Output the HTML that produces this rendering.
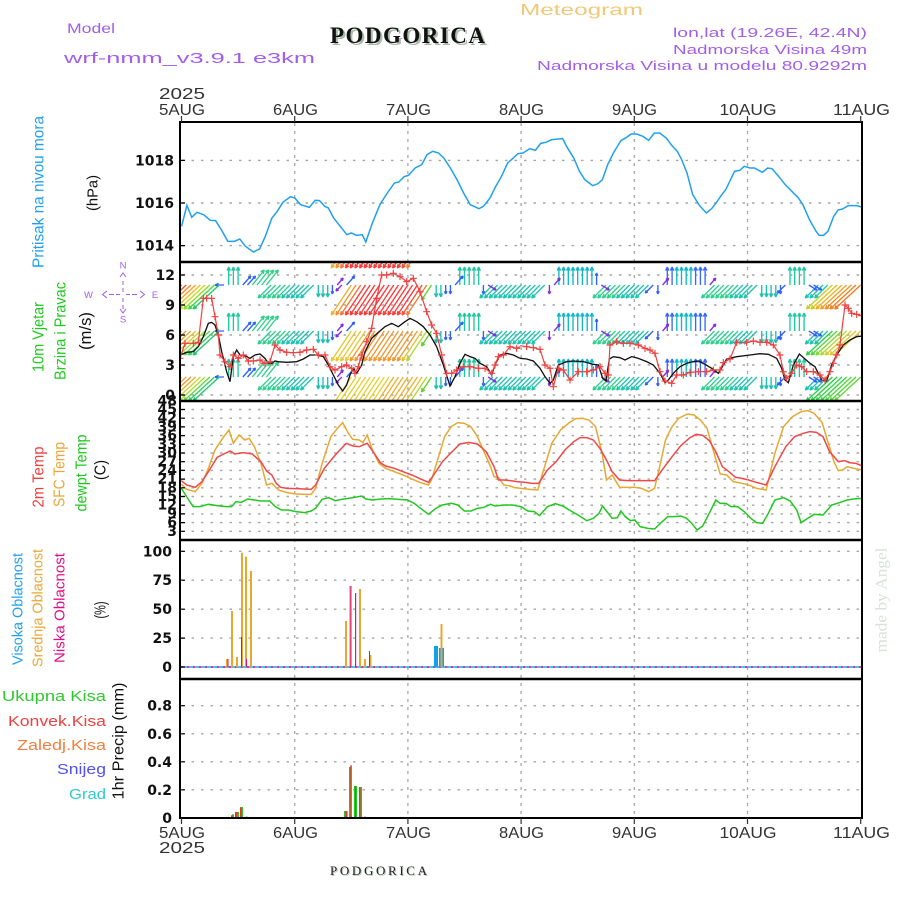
<!DOCTYPE html>
<html><head><meta charset="utf-8"><style>
html,body{margin:0;padding:0;background:#fff}
svg{display:block}
.g{stroke:#a6a6a6;stroke-width:1.4;stroke-dasharray:2.5,7}
.v{stroke:#a6a6a6;stroke-width:1.3;stroke-dasharray:3,5}
.tk{font-family:"DejaVu Sans","Liberation Sans",sans-serif;font-weight:bold;font-size:14px;fill:#111;text-anchor:end}
.ax{font-family:"Liberation Sans",sans-serif;font-size:16px;fill:#333;text-anchor:middle}
.lb{font-family:"Liberation Sans",sans-serif;font-size:16px;text-anchor:middle}
.w path{fill:none;stroke-width:1.35}
</style></head><body>
<svg width="900" height="900" viewBox="0 0 900 900" xmlns="http://www.w3.org/2000/svg">
<defs>
<clipPath id="cw"><rect x="181" y="263" width="680" height="137"/></clipPath>
<clipPath id="cp"><rect x="181" y="123" width="680" height="138"/></clipPath>
<marker id="pl" markerUnits="userSpaceOnUse" markerWidth="24" markerHeight="24" refX="12" refY="12" viewBox="0 0 24 24" overflow="visible"><path d="M12,1.5V22.5M1.5,12H22.5" stroke="#f04040" stroke-width="3.5" fill="none"/></marker>

<g id="wc" class="w">
<path stroke="#30d090" d="M271.1,0l-13,13l3.8,-1.4m-3.8,1.4l1.4,-3.8M275.8,0l-13,13l3.8,-1.4m-3.8,1.4l1.4,-3.8M280.6,0l-13,13l3.8,-1.4m-3.8,1.4l1.4,-3.8M285.3,0l-13,13l3.8,-1.4m-3.8,1.4l1.4,-3.8M290,0l-13,13l3.8,-1.4m-3.8,1.4l1.4,-3.8M606,0l-13,13l3.8,-1.4m-3.8,1.4l1.4,-3.8M610.7,0l-13,13l3.8,-1.4m-3.8,1.4l1.4,-3.8M615.5,0l-13,13l3.8,-1.4m-3.8,1.4l1.4,-3.8M620.2,0l-13,13l3.8,-1.4m-3.8,1.4l1.4,-3.8M624.9,0l-13,13l3.8,-1.4m-3.8,1.4l1.4,-3.8M714.5,0l-13,13l3.8,-1.4m-3.8,1.4l1.4,-3.8M719.2,0l-13,13l3.8,-1.4m-3.8,1.4l1.4,-3.8M723.9,0l-13,13l3.8,-1.4m-3.8,1.4l1.4,-3.8M728.7,0l-13,13l3.8,-1.4m-3.8,1.4l1.4,-3.8M733.4,0l-13,13l3.8,-1.4m-3.8,1.4l1.4,-3.8M738.1,0l-13,13l3.8,-1.4m-3.8,1.4l1.4,-3.8"/>
<path stroke="#20c4b0" d="M294.7,0l-13,13l3.8,-1.4m-3.8,1.4l1.4,-3.8M299.4,0l-13,13l3.8,-1.4m-3.8,1.4l1.4,-3.8M304.1,0l-13,13l3.8,-1.4m-3.8,1.4l1.4,-3.8M308.9,0l-13,13l3.8,-1.4m-3.8,1.4l1.4,-3.8M313.6,0l-13,13l3.8,-1.4m-3.8,1.4l1.4,-3.8M492.8,0l-13,13l3.8,-1.4m-3.8,1.4l1.4,-3.8M497.5,0l-13,13l3.8,-1.4m-3.8,1.4l1.4,-3.8M502.3,0l-13,13l3.8,-1.4m-3.8,1.4l1.4,-3.8M507,0l-13,13l3.8,-1.4m-3.8,1.4l1.4,-3.8M511.7,0l-13,13l3.8,-1.4m-3.8,1.4l1.4,-3.8M516.4,0l-13,13l3.8,-1.4m-3.8,1.4l1.4,-3.8M521.1,0l-13,13l3.8,-1.4m-3.8,1.4l1.4,-3.8M525.8,0l-13,13l3.8,-1.4m-3.8,1.4l1.4,-3.8M530.6,0l-13,13l3.8,-1.4m-3.8,1.4l1.4,-3.8M535.3,0l-13,13l3.8,-1.4m-3.8,1.4l1.4,-3.8M540,0l-13,13l3.8,-1.4m-3.8,1.4l1.4,-3.8M544.7,0l-13,13l3.8,-1.4m-3.8,1.4l1.4,-3.8M629.6,0l-13,13l3.8,-1.4m-3.8,1.4l1.4,-3.8M634.3,0l-13,13l3.8,-1.4m-3.8,1.4l1.4,-3.8M639,0l-13,13l3.8,-1.4m-3.8,1.4l1.4,-3.8M643.8,0l-13,13l3.8,-1.4m-3.8,1.4l1.4,-3.8M648.5,0l-13,13l3.8,-1.4m-3.8,1.4l1.4,-3.8M742.8,0l-13,13l3.8,-1.4m-3.8,1.4l1.4,-3.8M747.5,0l-13,13l3.8,-1.4m-3.8,1.4l1.4,-3.8M752.2,0l-13,13l3.8,-1.4m-3.8,1.4l1.4,-3.8M757,0l-13,13l3.8,-1.4m-3.8,1.4l1.4,-3.8M818.3,0l-13,13l3.8,-1.4m-3.8,1.4l1.4,-3.8M823,0l-13,13l3.8,-1.4m-3.8,1.4l1.4,-3.8M827.7,0l-13,13l3.8,-1.4m-3.8,1.4l1.4,-3.8"/>
<path stroke="#20c0b0" d="M318.3,0l0,12l-1.7,-3.6m1.7,3.6l1.7,-3.6M323,0l0,12l-1.7,-3.6m1.7,3.6l1.7,-3.6M327.7,0l0,12l-1.7,-3.6m1.7,3.6l1.7,-3.6M436.2,0l0,12l-1.7,-3.6m1.7,3.6l1.7,-3.6M440.9,0l0,12l-1.7,-3.6m1.7,3.6l1.7,-3.6M761.7,0l0,12l-1.7,-3.6m1.7,3.6l1.7,-3.6M766.4,0l0,12l-1.7,-3.6m1.7,3.6l1.7,-3.6M771.1,0l0,12l-1.7,-3.6m1.7,3.6l1.7,-3.6M775.8,0l0,12l-1.7,-3.6m1.7,3.6l1.7,-3.6"/>
<path stroke="#20c8a0" d="M228.7,0l0,-18l-1.7,3.6m1.7,-3.6l1.7,3.6M233.4,0l0,-18l-1.7,3.6m1.7,-3.6l1.7,3.6M238.1,0l0,-18l-1.7,3.6m1.7,-3.6l1.7,3.6M459.8,0l0,-18l-1.7,3.6m1.7,-3.6l1.7,3.6M464.5,0l0,-18l-1.7,3.6m1.7,-3.6l1.7,3.6M469.2,0l0,-18l-1.7,3.6m1.7,-3.6l1.7,3.6M474,0l0,-18l-1.7,3.6m1.7,-3.6l1.7,3.6M478.7,0l0,-18l-1.7,3.6m1.7,-3.6l1.7,3.6M790,0l0,-18l-1.7,3.6m1.7,-3.6l1.7,3.6M794.7,0l0,-18l-1.7,3.6m1.7,-3.6l1.7,3.6M799.4,0l0,-18l-1.7,3.6m1.7,-3.6l1.7,3.6M804.1,0l0,-18l-1.7,3.6m1.7,-3.6l1.7,3.6"/>
<path stroke="#10b8c8" d="M558.9,0l0,-18l-1.7,3.6m1.7,-3.6l1.7,3.6M563.6,0l0,-18l-1.7,3.6m1.7,-3.6l1.7,3.6M568.3,0l0,-18l-1.7,3.6m1.7,-3.6l1.7,3.6M573,0l0,-18l-1.7,3.6m1.7,-3.6l1.7,3.6M577.7,0l0,-18l-1.7,3.6m1.7,-3.6l1.7,3.6M582.4,0l0,-18l-1.7,3.6m1.7,-3.6l1.7,3.6M587.2,0l0,-18l-1.7,3.6m1.7,-3.6l1.7,3.6M591.9,0l0,-18l-1.7,3.6m1.7,-3.6l1.7,3.6M676.8,0l0,-18l-1.7,3.6m1.7,-3.6l1.7,3.6M681.5,0l0,-18l-1.7,3.6m1.7,-3.6l1.7,3.6M686.2,0l0,-18l-1.7,3.6m1.7,-3.6l1.7,3.6M690.9,0l0,-18l-1.7,3.6m1.7,-3.6l1.7,3.6"/>
<path stroke="#3868ff" d="M667.3,0l0,-18l-1.7,3.6m1.7,-3.6l1.7,3.6M672.1,0l0,-18l-1.7,3.6m1.7,-3.6l1.7,3.6M695.6,0l0,-18l-1.7,3.6m1.7,-3.6l1.7,3.6M700.4,0l0,-18l-1.7,3.6m1.7,-3.6l1.7,3.6M705.1,0l0,-18l-1.7,3.6m1.7,-3.6l1.7,3.6"/>
<path stroke="#30d088" d="M252.3,0l12,-15l-3.7,1.6m3.7,-1.6l-1.1,3.8M257,0l12,-15l-3.7,1.6m3.7,-1.6l-1.1,3.8M261.7,0l12,-15l-3.7,1.6m3.7,-1.6l-1.1,3.8M266.4,0l12,-15l-3.7,1.6m3.7,-1.6l-1.1,3.8"/>
<path stroke="#3060ff" d="M224,0l-9,0l3.6,-1.7m-3.6,1.7l3.6,1.7M242.8,0l8,-9l-2.8,1.2m2.8,-1.2l-0.8,2.9M247.5,0l8,-9l-2.8,1.2m2.8,-1.2l-0.8,2.9M346.6,0l8,-9l-2.8,1.2m2.8,-1.2l-0.8,2.9M455.1,0l8,-9l-2.8,1.2m2.8,-1.2l-0.8,2.9M332.4,0l0,9l-1.3,-2.7m1.3,2.7l1.3,-2.7M445.7,0l0,9l-1.3,-2.7m1.3,2.7l1.3,-2.7M450.4,0l0,9l-1.3,-2.7m1.3,2.7l1.3,-2.7M483.4,0l0,9l-1.3,-2.7m1.3,2.7l1.3,-2.7M657.9,0l0,9l-1.3,-2.7m1.3,2.7l1.3,-2.7M780.5,0l0,9l-1.3,-2.7m1.3,2.7l1.3,-2.7M596.6,0l0,-12l-1.3,2.7m1.3,-2.7l1.3,2.7M653.2,0l-8,8l2.8,-1m-2.8,1l1,-2.8M785.3,0l-8,8l2.8,-1m-2.8,1l1,-2.8M808.8,0l8,5l-1.6,-2.5m1.6,2.5l-3,-0.4M813.6,0l8,5l-1.6,-2.5m1.6,2.5l-3,-0.4"/>
<path stroke="#8a2be2" d="M337.2,0l6,-7l-2.8,1.2m2.8,-1.2l-0.8,2.9M554.1,0l6,-7l-2.8,1.2m2.8,-1.2l-0.8,2.9M662.6,0l6,-7l-2.8,1.2m2.8,-1.2l-0.8,2.9M709.8,0l6,-7l-2.8,1.2m2.8,-1.2l-0.8,2.9M341.9,0l-6,6l2.8,-1m-2.8,1l1,-2.8M488.1,0l8,5l-1.6,-2.5m1.6,2.5l-3,-0.4M601.3,0l8,5l-1.6,-2.5m1.6,2.5l-3,-0.4M549.4,0l0,9l-1.3,-2.7m1.3,2.7l1.3,-2.7"/>
</g>

<g id="wT" class="w">
<path stroke="#ff2020" d="M181.5,0l-26,24l3.8,-1.2m-3.8,1.2l1.5,-3.7"/>
<path stroke="#ff5020" d="M186.2,0l-26,24l3.8,-1.2m-3.8,1.2l1.5,-3.7"/>
<path stroke="#ff8020" d="M190.9,0l-26,24l3.8,-1.2m-3.8,1.2l1.5,-3.7"/>
<path stroke="#ffa020" d="M195.7,0l-26,24l3.8,-1.2m-3.8,1.2l1.5,-3.7"/>
<path stroke="#f0c020" d="M200.4,0l-26,24l3.8,-1.2m-3.8,1.2l1.5,-3.7"/>
<path stroke="#c8d820" d="M205.1,0l-26,24l3.8,-1.2m-3.8,1.2l1.5,-3.7"/>
<path stroke="#88e020" d="M209.8,0l-26,24l3.8,-1.2m-3.8,1.2l1.5,-3.7"/>
<path stroke="#40d840" d="M214.5,0l-26,24l3.8,-1.2m-3.8,1.2l1.5,-3.7"/>
<path stroke="#20d060" d="M219.2,0l-26,24l3.8,-1.2m-3.8,1.2l1.5,-3.7"/>
<path stroke="#f0b030" d="M351.3,0l-20,30l3.4,-2.1m-3.4,2.1l0.6,-4"/>
<path stroke="#f09030" d="M356,0l-20,30l3.4,-2.1m-3.4,2.1l0.6,-4"/>
<path stroke="#ff7030" d="M360.7,0l-20,30l3.4,-2.1m-3.4,2.1l0.6,-4"/>
<path stroke="#ff3838" d="M365.5,0l-20,30l3.4,-2.1m-3.4,2.1l0.6,-4M370.2,0l-20,30l3.4,-2.1m-3.4,2.1l0.6,-4M374.9,0l-20,30l3.4,-2.1m-3.4,2.1l0.6,-4M379.6,0l-20,30l3.4,-2.1m-3.4,2.1l0.6,-4M384.3,0l-20,30l3.4,-2.1m-3.4,2.1l0.6,-4M389,0l-20,30l3.4,-2.1m-3.4,2.1l0.6,-4M393.8,0l-20,30l3.4,-2.1m-3.4,2.1l0.6,-4M398.5,0l-20,30l3.4,-2.1m-3.4,2.1l0.6,-4M403.2,0l-20,30l3.4,-2.1m-3.4,2.1l0.6,-4M407.9,0l-20,30l3.4,-2.1m-3.4,2.1l0.6,-4M412.6,0l-20,30l3.4,-2.1m-3.4,2.1l0.6,-4M417.4,0l-20,30l3.4,-2.1m-3.4,2.1l0.6,-4"/>
<path stroke="#ff5030" d="M422.1,0l-20,30l3.4,-2.1m-3.4,2.1l0.6,-4"/>
<path stroke="#f08030" d="M426.8,0l-20,30l3.4,-2.1m-3.4,2.1l0.6,-4"/>
<path stroke="#60d030" d="M431.5,0l-10,15l3.4,-2.1m-3.4,2.1l0.6,-4"/>
<path stroke="#c8d020" d="M832.4,0l-26,24l3.8,-1.2m-3.8,1.2l1.5,-3.7"/>
<path stroke="#e0c020" d="M837.1,0l-26,24l3.8,-1.2m-3.8,1.2l1.5,-3.7"/>
<path stroke="#f0b020" d="M841.9,0l-26,24l3.8,-1.2m-3.8,1.2l1.5,-3.7"/>
<path stroke="#f0a020" d="M846.6,0l-26,24l3.8,-1.2m-3.8,1.2l1.5,-3.7"/>
<path stroke="#f09020" d="M851.3,0l-26,24l3.8,-1.2m-3.8,1.2l1.5,-3.7"/>
<path stroke="#f08020" d="M856,0l-26,24l3.8,-1.2m-3.8,1.2l1.5,-3.7"/>
<path stroke="#f07820" d="M860.7,0l-26,24l3.8,-1.2m-3.8,1.2l1.5,-3.7"/>
</g>

<g id="wM" class="w">
<path stroke="#f07030" d="M181.5,0l-26,24l3.8,-1.2m-3.8,1.2l1.5,-3.7"/>
<path stroke="#f09030" d="M186.2,0l-26,24l3.8,-1.2m-3.8,1.2l1.5,-3.7"/>
<path stroke="#f0a830" d="M190.9,0l-26,24l3.8,-1.2m-3.8,1.2l1.5,-3.7"/>
<path stroke="#e8c030" d="M195.7,0l-26,24l3.8,-1.2m-3.8,1.2l1.5,-3.7"/>
<path stroke="#d0d030" d="M200.4,0l-26,24l3.8,-1.2m-3.8,1.2l1.5,-3.7"/>
<path stroke="#a0e030" d="M205.1,0l-26,24l3.8,-1.2m-3.8,1.2l1.5,-3.7"/>
<path stroke="#60d840" d="M209.8,0l-26,24l3.8,-1.2m-3.8,1.2l1.5,-3.7"/>
<path stroke="#30d060" d="M214.5,0l-26,24l3.8,-1.2m-3.8,1.2l1.5,-3.7"/>
<path stroke="#20c870" d="M219.2,0l-26,24l3.8,-1.2m-3.8,1.2l1.5,-3.7"/>
<path stroke="#e8c830" d="M351.3,0l-20,30l3.4,-2.1m-3.4,2.1l0.6,-4M356,0l-20,30l3.4,-2.1m-3.4,2.1l0.6,-4M360.7,0l-20,30l3.4,-2.1m-3.4,2.1l0.6,-4M365.5,0l-20,30l3.4,-2.1m-3.4,2.1l0.6,-4"/>
<path stroke="#f09830" d="M370.2,0l-20,30l3.4,-2.1m-3.4,2.1l0.6,-4M374.9,0l-20,30l3.4,-2.1m-3.4,2.1l0.6,-4M379.6,0l-20,30l3.4,-2.1m-3.4,2.1l0.6,-4M384.3,0l-20,30l3.4,-2.1m-3.4,2.1l0.6,-4M389,0l-20,30l3.4,-2.1m-3.4,2.1l0.6,-4M393.8,0l-20,30l3.4,-2.1m-3.4,2.1l0.6,-4M398.5,0l-20,30l3.4,-2.1m-3.4,2.1l0.6,-4M403.2,0l-20,30l3.4,-2.1m-3.4,2.1l0.6,-4M407.9,0l-20,30l3.4,-2.1m-3.4,2.1l0.6,-4M412.6,0l-20,30l3.4,-2.1m-3.4,2.1l0.6,-4M417.4,0l-20,30l3.4,-2.1m-3.4,2.1l0.6,-4"/>
<path stroke="#e8c030" d="M422.1,0l-20,30l3.4,-2.1m-3.4,2.1l0.6,-4"/>
<path stroke="#b0d830" d="M426.8,0l-20,30l3.4,-2.1m-3.4,2.1l0.6,-4"/>
<path stroke="#60d030" d="M431.5,0l-10,15l3.4,-2.1m-3.4,2.1l0.6,-4"/>
<path stroke="#30d040" d="M832.4,0l-26,24l3.8,-1.2m-3.8,1.2l1.5,-3.7"/>
<path stroke="#50d838" d="M837.1,0l-26,24l3.8,-1.2m-3.8,1.2l1.5,-3.7"/>
<path stroke="#80d830" d="M841.9,0l-26,24l3.8,-1.2m-3.8,1.2l1.5,-3.7"/>
<path stroke="#b0d830" d="M846.6,0l-26,24l3.8,-1.2m-3.8,1.2l1.5,-3.7"/>
<path stroke="#d0d030" d="M851.3,0l-26,24l3.8,-1.2m-3.8,1.2l1.5,-3.7"/>
<path stroke="#e0c830" d="M856,0l-26,24l3.8,-1.2m-3.8,1.2l1.5,-3.7"/>
<path stroke="#e8c030" d="M860.7,0l-26,24l3.8,-1.2m-3.8,1.2l1.5,-3.7"/>
</g>

<g id="wB" class="w">
<path stroke="#e8c030" d="M181.5,0l-26,24l3.8,-1.2m-3.8,1.2l1.5,-3.7"/>
<path stroke="#f0a830" d="M186.2,0l-26,24l3.8,-1.2m-3.8,1.2l1.5,-3.7"/>
<path stroke="#f09030" d="M190.9,0l-26,24l3.8,-1.2m-3.8,1.2l1.5,-3.7"/>
<path stroke="#e8b030" d="M195.7,0l-26,24l3.8,-1.2m-3.8,1.2l1.5,-3.7"/>
<path stroke="#d0d030" d="M200.4,0l-26,24l3.8,-1.2m-3.8,1.2l1.5,-3.7"/>
<path stroke="#a0e030" d="M205.1,0l-26,24l3.8,-1.2m-3.8,1.2l1.5,-3.7"/>
<path stroke="#60d840" d="M209.8,0l-26,24l3.8,-1.2m-3.8,1.2l1.5,-3.7"/>
<path stroke="#30d060" d="M214.5,0l-26,24l3.8,-1.2m-3.8,1.2l1.5,-3.7"/>
<path stroke="#20c870" d="M219.2,0l-26,24l3.8,-1.2m-3.8,1.2l1.5,-3.7"/>
<path stroke="#e8d030" d="M351.3,0l-20,30l3.4,-2.1m-3.4,2.1l0.6,-4M356,0l-20,30l3.4,-2.1m-3.4,2.1l0.6,-4M360.7,0l-20,30l3.4,-2.1m-3.4,2.1l0.6,-4M365.5,0l-20,30l3.4,-2.1m-3.4,2.1l0.6,-4M370.2,0l-20,30l3.4,-2.1m-3.4,2.1l0.6,-4M374.9,0l-20,30l3.4,-2.1m-3.4,2.1l0.6,-4M379.6,0l-20,30l3.4,-2.1m-3.4,2.1l0.6,-4M384.3,0l-20,30l3.4,-2.1m-3.4,2.1l0.6,-4M389,0l-20,30l3.4,-2.1m-3.4,2.1l0.6,-4"/>
<path stroke="#f0b030" d="M393.8,0l-20,30l3.4,-2.1m-3.4,2.1l0.6,-4M398.5,0l-20,30l3.4,-2.1m-3.4,2.1l0.6,-4M403.2,0l-20,30l3.4,-2.1m-3.4,2.1l0.6,-4M407.9,0l-20,30l3.4,-2.1m-3.4,2.1l0.6,-4M412.6,0l-20,30l3.4,-2.1m-3.4,2.1l0.6,-4M417.4,0l-20,30l3.4,-2.1m-3.4,2.1l0.6,-4"/>
<path stroke="#e8c030" d="M422.1,0l-20,30l3.4,-2.1m-3.4,2.1l0.6,-4"/>
<path stroke="#b0d830" d="M426.8,0l-20,30l3.4,-2.1m-3.4,2.1l0.6,-4"/>
<path stroke="#60d030" d="M431.5,0l-10,15l3.4,-2.1m-3.4,2.1l0.6,-4"/>
<path stroke="#20d040" d="M832.4,0l-26,24l3.8,-1.2m-3.8,1.2l1.5,-3.7M837.1,0l-26,24l3.8,-1.2m-3.8,1.2l1.5,-3.7"/>
<path stroke="#30d840" d="M841.9,0l-26,24l3.8,-1.2m-3.8,1.2l1.5,-3.7M846.6,0l-26,24l3.8,-1.2m-3.8,1.2l1.5,-3.7"/>
<path stroke="#50d838" d="M851.3,0l-26,24l3.8,-1.2m-3.8,1.2l1.5,-3.7M856,0l-26,24l3.8,-1.2m-3.8,1.2l1.5,-3.7"/>
<path stroke="#60d830" d="M860.7,0l-26,24l3.8,-1.2m-3.8,1.2l1.5,-3.7"/>
</g>
</defs>

<rect x="0" y="0" width="900" height="900" fill="#fff"/>

<!-- header texts -->
<text x="520" y="15" font-family="Liberation Sans,sans-serif" font-size="16" fill="#f0c878" textLength="123" lengthAdjust="spacingAndGlyphs">Meteogram</text>
<text x="67" y="33" font-family="Liberation Sans,sans-serif" font-size="14" fill="#a35ee8" textLength="48" lengthAdjust="spacingAndGlyphs">Model</text>
<text x="64" y="63" font-family="Liberation Sans,sans-serif" font-size="15" fill="#a35ee8" textLength="251" lengthAdjust="spacingAndGlyphs">wrf-nmm_v3.9.1 e3km</text>
<text x="332" y="45" font-family="Liberation Serif,serif" font-weight="bold" font-size="23" fill="#a8bca8" textLength="155" lengthAdjust="spacing">PODGORICA</text>
<text x="330" y="43" font-family="Liberation Serif,serif" font-weight="bold" font-size="23" fill="#111" textLength="155" lengthAdjust="spacing">PODGORICA</text>
<text x="673" y="37" font-family="Liberation Sans,sans-serif" font-size="13" fill="#a35ee8" textLength="194" lengthAdjust="spacingAndGlyphs">lon,lat (19.26E, 42.4N)</text>
<text x="673" y="54" font-family="Liberation Sans,sans-serif" font-size="13" fill="#a35ee8" textLength="194" lengthAdjust="spacingAndGlyphs">Nadmorska Visina 49m</text>
<text x="537" y="70" font-family="Liberation Sans,sans-serif" font-size="13" fill="#a35ee8" textLength="330" lengthAdjust="spacingAndGlyphs">Nadmorska Visina u modelu 80.9292m</text>

<!-- x axis labels -->
<text class="ax" x="182" y="99" textLength="46" lengthAdjust="spacingAndGlyphs">2025</text>
<text class="ax" x="182" y="115" textLength="46" lengthAdjust="spacingAndGlyphs">5AUG</text>
<text class="ax" x="295.5" y="115" textLength="45" lengthAdjust="spacingAndGlyphs">6AUG</text>
<text class="ax" x="408.5" y="115" textLength="45" lengthAdjust="spacingAndGlyphs">7AUG</text>
<text class="ax" x="521.5" y="115" textLength="45" lengthAdjust="spacingAndGlyphs">8AUG</text>
<text class="ax" x="634.5" y="115" textLength="45" lengthAdjust="spacingAndGlyphs">9AUG</text>
<text class="ax" x="748" y="115" textLength="57" lengthAdjust="spacingAndGlyphs">10AUG</text>
<text class="ax" x="861.5" y="115" textLength="57" lengthAdjust="spacingAndGlyphs">11AUG</text>
<text class="ax" x="182" y="838" textLength="46" lengthAdjust="spacingAndGlyphs">5AUG</text>
<text class="ax" x="182" y="853" textLength="46" lengthAdjust="spacingAndGlyphs">2025</text>
<text class="ax" x="295.5" y="838" textLength="45" lengthAdjust="spacingAndGlyphs">6AUG</text>
<text class="ax" x="408.5" y="838" textLength="45" lengthAdjust="spacingAndGlyphs">7AUG</text>
<text class="ax" x="521.5" y="838" textLength="45" lengthAdjust="spacingAndGlyphs">8AUG</text>
<text class="ax" x="634.5" y="838" textLength="45" lengthAdjust="spacingAndGlyphs">9AUG</text>
<text class="ax" x="748" y="838" textLength="57" lengthAdjust="spacingAndGlyphs">10AUG</text>
<text class="ax" x="861.5" y="838" textLength="57" lengthAdjust="spacingAndGlyphs">11AUG</text>

<!-- grids -->
<g>
<line class="g" x1="182" x2="861" y1="160.4" y2="160.4"/>
<line class="g" x1="182" x2="861" y1="203" y2="203"/>
<line class="g" x1="182" x2="861" y1="245.6" y2="245.6"/>
<line class="g" x1="182" x2="861" y1="275" y2="275"/>
<line class="g" x1="182" x2="861" y1="305" y2="305"/>
<line class="g" x1="182" x2="861" y1="335" y2="335"/>
<line class="g" x1="182" x2="861" y1="365" y2="365"/>
<line class="g" x1="182" x2="861" y1="395" y2="395"/>
<line class="g" x1="182" x2="861" y1="531.3" y2="531.3"/>
<line class="g" x1="182" x2="861" y1="522.6" y2="522.6"/>
<line class="g" x1="182" x2="861" y1="513.9" y2="513.9"/>
<line class="g" x1="182" x2="861" y1="505.2" y2="505.2"/>
<line class="g" x1="182" x2="861" y1="496.5" y2="496.5"/>
<line class="g" x1="182" x2="861" y1="487.8" y2="487.8"/>
<line class="g" x1="182" x2="861" y1="479.1" y2="479.1"/>
<line class="g" x1="182" x2="861" y1="470.4" y2="470.4"/>
<line class="g" x1="182" x2="861" y1="461.7" y2="461.7"/>
<line class="g" x1="182" x2="861" y1="453" y2="453"/>
<line class="g" x1="182" x2="861" y1="444.3" y2="444.3"/>
<line class="g" x1="182" x2="861" y1="435.6" y2="435.6"/>
<line class="g" x1="182" x2="861" y1="426.9" y2="426.9"/>
<line class="g" x1="182" x2="861" y1="418.2" y2="418.2"/>
<line class="g" x1="182" x2="861" y1="409.5" y2="409.5"/>
<line class="g" x1="182" x2="861" y1="551.3" y2="551.3"/>
<line class="g" x1="182" x2="861" y1="580.2" y2="580.2"/>
<line class="g" x1="182" x2="861" y1="609.2" y2="609.2"/>
<line class="g" x1="182" x2="861" y1="638.1" y2="638.1"/>
<line class="g" x1="182" x2="861" y1="705.7" y2="705.7"/>
<line class="g" x1="182" x2="861" y1="733.8" y2="733.8"/>
<line class="g" x1="182" x2="861" y1="761.8" y2="761.8"/>
<line class="g" x1="182" x2="861" y1="789.8" y2="789.8"/>
<line class="v" x1="294.7" x2="294.7" y1="123" y2="817"/>
<line class="v" x1="407.9" x2="407.9" y1="123" y2="817"/>
<line class="v" x1="521.1" x2="521.1" y1="123" y2="817"/>
<line class="v" x1="634.3" x2="634.3" y1="123" y2="817"/>
<line class="v" x1="747.5" x2="747.5" y1="123" y2="817"/>
</g>

<!-- pressure -->
<g clip-path="url(#cp)">
<polyline transform="translate(175,118) scale(0.4406,0.3333)" vector-effect="non-scaling-stroke" fill="none" stroke="#20a0f0" stroke-width="1.5" points="15,325 27,262 38,298 50,283 65,290 80,307 92,308 105,335 120,370 135,370 147,363 160,385 178,402 192,393 205,355 220,300 232,280 245,253 262,236 272,240 285,260 305,268 318,247 328,248 340,265 348,270 360,300 375,325 390,350 400,345 412,352 425,350 433,372 448,315 465,260 482,225 498,195 508,192 520,176 530,172 545,150 560,140 572,110 585,100 598,105 610,120 625,150 640,185 655,225 670,260 690,272 700,265 715,240 728,205 740,178 755,135 768,120 778,107 790,105 805,92 818,97 830,76 842,73 855,65 870,63 880,62 890,88 905,120 918,160 930,185 948,203 960,197 970,185 982,140 995,105 1012,68 1025,58 1035,48 1048,48 1062,55 1075,67 1088,45 1100,45 1115,60 1128,83 1140,100 1150,125 1162,165 1175,230 1190,262 1206,285 1218,272 1228,255 1240,232 1250,215 1270,160 1282,157 1292,145 1305,150 1315,150 1333,163 1345,150 1355,152 1370,175 1385,200 1400,220 1415,240 1425,260 1440,305 1455,340 1462,352 1472,352 1482,340 1495,295 1505,276 1515,273 1528,263 1540,263 1548,263 1560,268"/>
</g>

<!-- wind -->
<g clip-path="url(#cw)">
<use href="#wT" transform="translate(0,238)"/>
<use href="#wc" transform="translate(0,285)"/>
<use href="#wT" transform="translate(0,285)"/>
<use href="#wc" transform="translate(0,331)"/>
<use href="#wM" transform="translate(0,331)"/>
<use href="#wc" transform="translate(0,377)"/>
<use href="#wB" transform="translate(0,377)"/>
<g transform="translate(180,255) scale(0.33333)">
<polyline fill="none" stroke="#111" stroke-width="4" points="0,300 20,292 40,290 55,275 70,245 85,205 95,202 105,210 115,240 125,290 140,350 150,380 160,305 170,285 180,300 195,302 210,310 225,300 240,297 255,310 265,325 275,325 285,318 295,320 320,322 350,320 370,312 390,300 410,300 430,305 445,330 460,360 475,390 488,408 500,390 510,360 520,340 530,355 545,330 555,290 575,250 595,232 615,215 635,205 655,215 675,200 690,190 710,200 730,215 750,240 770,275 790,330 810,393 825,365 840,325 855,298 870,305 885,310 900,325 920,335 935,360 945,330 960,300 980,295 1000,300 1020,310"/>
<polyline fill="none" stroke="#f04040" stroke-width="3.6" marker-start="url(#pl)" marker-mid="url(#pl)" points="0,310 15,265 40,265 55,262 70,130 80,130 95,130 105,185 115,240 120,300 135,320 150,335 160,300 175,310 190,300 205,318 220,318 240,315 255,325 270,320 285,270 300,285 320,292 340,293 360,292 380,285 400,283 415,300 435,300 450,335 465,345 485,335 500,330 515,340 525,355 535,335 545,300 560,260 575,220 590,130 605,60 620,60 640,55 660,65 680,80 700,70 720,110 740,170 755,210 770,235 785,300 800,355 815,355 830,345 850,335 870,335 895,340 915,340 935,355 945,330 955,305 970,300 990,275 1010,280 1020,275"/>
</g>
<g transform="translate(520,255) scale(0.33333)">
<polyline fill="none" stroke="#111" stroke-width="4" points="0,310 20,312 40,318 60,340 75,365 90,385 100,375 115,330 140,320 160,318 190,320 220,328 235,330 248,370 258,378 268,312 280,305 300,308 315,315 335,305 355,310 380,320 400,330 420,355 435,383 445,375 460,355 480,335 500,325 520,320 535,318 555,328 575,340 595,355 610,330 620,312 650,305 690,300 720,296 745,298 770,310 785,340 795,375 805,383 820,330 838,297 855,312 870,325 885,335 905,375 920,378 935,330 950,300 970,270 990,255 1010,245 1030,243"/>
<polyline fill="none" stroke="#f04040" stroke-width="3.6" marker-mid="url(#pl)" marker-end="url(#pl)" points="0,272 20,275 40,278 60,283 75,330 90,340 100,395 115,340 130,345 150,375 175,350 200,350 220,345 240,335 255,355 265,360 270,270 290,260 310,265 330,265 355,270 375,280 390,285 405,295 420,350 435,378 455,385 470,360 490,360 510,352 535,350 560,350 580,345 600,345 610,323 630,312 650,262 680,262 700,258 720,262 740,262 760,270 780,300 790,350 800,370 815,355 830,330 845,335 860,350 880,350 900,360 915,375 930,350 940,325 950,300 960,270 975,150 985,160 995,175 1010,178 1025,182"/>
</g>
</g>

<!-- temperature -->
<g transform="translate(180,400) scale(0.4374,0.3333)" fill="none">
<polyline vector-effect="non-scaling-stroke" stroke="#e8a830" stroke-width="1.5" points="3,252 15,268 35,275 50,250 65,205 80,150 100,110 112,90 122,130 135,105 148,120 158,115 170,140 185,190 198,255 210,250 225,270 245,278 265,282 285,283 300,283 310,265 325,190 345,110 360,85 372,68 385,100 395,118 410,120 418,128 428,105 440,150 455,190 470,205 490,215 510,225 530,237 550,248 568,255 575,240 590,175 605,110 620,80 635,68 650,70 665,80 680,110 695,155 710,200 718,230 728,232 740,255 755,258 765,263 780,265 800,268 818,270 830,215 850,130 870,90 890,68 905,56 920,55 935,60 950,80 965,160 975,240 988,225 1005,262 1020,262 1040,262 1055,265 1072,275 1085,265 1095,210 1110,120 1125,80 1140,55 1160,42 1175,45 1190,60 1205,85 1220,155 1235,222 1250,225 1265,245 1285,250 1300,255 1318,265 1340,270 1360,160 1380,80 1400,50 1420,35 1435,32 1450,40 1468,68 1480,120 1495,185 1505,212 1515,210 1525,200 1540,205 1560,210"/>
<polyline vector-effect="non-scaling-stroke" stroke="#f04848" stroke-width="1.5" points="3,242 15,255 35,262 50,245 65,215 85,172 100,162 115,153 125,162 145,158 165,162 185,185 198,213 210,225 220,250 230,262 245,265 265,266 285,267 300,268 310,255 330,205 355,165 380,130 395,138 410,140 428,130 445,162 458,188 470,198 490,205 510,215 530,225 550,237 568,247 580,225 600,185 620,158 640,132 660,127 680,132 700,155 718,200 728,240 740,240 755,242 770,245 790,247 805,250 820,250 840,210 860,185 880,150 900,125 915,113 930,113 945,120 960,145 975,180 988,215 1005,240 1025,242 1050,242 1070,242 1085,242 1105,205 1125,170 1145,137 1165,114 1180,103 1195,106 1210,122 1225,155 1240,200 1255,215 1270,232 1285,235 1300,240 1320,248 1340,255 1360,200 1385,140 1405,110 1425,100 1440,95 1455,97 1470,110 1485,155 1505,185 1520,182 1530,188 1545,190 1560,198"/>
<polyline vector-effect="non-scaling-stroke" stroke="#20c820" stroke-width="1.5" points="3,265 15,290 30,320 45,320 65,313 85,317 105,320 118,320 128,305 140,307 155,297 170,300 185,303 205,303 218,320 232,330 248,330 265,335 285,338 300,333 310,325 325,298 340,293 355,302 370,298 385,295 400,292 415,288 425,297 440,300 460,297 480,296 500,298 520,300 535,310 550,325 568,343 585,325 600,315 620,310 635,315 650,333 665,333 680,325 695,322 710,313 720,318 740,315 760,315 780,320 795,333 810,335 822,347 840,320 858,311 875,318 890,330 910,345 930,362 945,355 958,340 966,318 975,333 988,355 1000,353 1008,333 1018,350 1030,362 1040,360 1052,380 1070,385 1085,387 1100,368 1115,350 1130,350 1145,348 1158,355 1170,370 1182,390 1195,378 1210,340 1225,300 1235,310 1248,310 1260,320 1275,320 1290,335 1305,355 1318,368 1332,370 1345,340 1360,300 1380,293 1395,303 1410,330 1420,368 1435,355 1450,343 1470,345 1490,315 1510,307 1525,300 1540,297 1558,295"/>
</g>

<!-- clouds -->
<line x1="181" x2="861" y1="667" y2="667" stroke="#20a0f0" stroke-width="1.6"/>
<line x1="181" x2="861" y1="667" y2="667" stroke="#e0107a" stroke-width="1.6" stroke-dasharray="2,4"/>
<g fill="#e8a830">
<rect x="226" y="659" width="2.5" height="8"/>
<rect x="231" y="611" width="2" height="56"/>
<rect x="236" y="657" width="2" height="10"/>
<rect x="241" y="552.7" width="2" height="114.3"/>
<rect x="245" y="556.7" width="2" height="110.3"/>
<rect x="250" y="571" width="2" height="96"/>
<rect x="345" y="621" width="2" height="46"/>
<rect x="349.3" y="586" width="1" height="81"/>
<rect x="359" y="589" width="2" height="78"/>
<rect x="364" y="659" width="2" height="8"/>
<rect x="370" y="655" width="1.5" height="12"/>
<rect x="440.5" y="624" width="2" height="43"/>
</g>
<g fill="#e0107a">
<rect x="227.5" y="659" width="1" height="8"/>
<rect x="241" y="637" width="1" height="30"/>
<rect x="246" y="659" width="1" height="8"/>
<rect x="350.3" y="586" width="1.2" height="81"/>
<rect x="355" y="593" width="1.2" height="74"/>
<rect x="369" y="651" width="1" height="16"/>
</g>
<g fill="#10a0f0">
<rect x="434" y="646" width="4" height="21"/>
<rect x="439" y="648" width="1.5" height="19"/>
<rect x="442.5" y="648" width="1.5" height="19"/>
</g>

<!-- precip -->
<g fill="#20c820">
<rect x="232" y="814.3" width="2" height="3.7"/>
<rect x="237" y="812" width="2" height="6"/>
<rect x="240" y="807" width="3" height="11"/>
<rect x="344" y="811" width="3" height="7"/>
<rect x="349" y="767" width="2" height="51"/>
<rect x="354" y="786" width="3" height="32"/>
<rect x="360" y="787" width="2" height="31"/>
</g>
<g fill="#f03030">
<rect x="231" y="815.3" width="1.5" height="2.7"/>
<rect x="235" y="812" width="2" height="6"/>
<rect x="240" y="807.7" width="1.5" height="10.3"/>
<rect x="245.5" y="816.7" width="2" height="1.3"/>
<rect x="345.5" y="811" width="2" height="7"/>
<rect x="350.3" y="765.3" width="1.5" height="52.7"/>
<rect x="355" y="786.7" width="1" height="31.3"/>
<rect x="359" y="787" width="1.5" height="31"/>
<rect x="364" y="816.7" width="2" height="1.3"/>
</g>

<!-- frame -->
<g stroke="#000" fill="none">
<rect x="180" y="122" width="682" height="696" stroke-width="2"/>
<line x1="180" x2="862" y1="262" y2="262" stroke-width="2.5"/>
<line x1="180" x2="862" y1="401" y2="401" stroke-width="2.5"/>
<line x1="180" x2="862" y1="540" y2="540" stroke-width="2.5"/>
<line x1="180" x2="862" y1="679" y2="679" stroke-width="2.5"/>
<path stroke-width="1.2" stroke="#333" d="M181.5,116V122M294.7,116V122M407.9,116V122M521.1,116V122M634.3,116V122M747.5,116V122M860.7,116V122M181.5,818V824M294.7,818V824M407.9,818V824M521.1,818V824M634.3,818V824M747.5,818V824M860.7,818V824"/>
<path stroke-width="1.2" d="M180,160.4h5M180,203h5M180,245.6h5M180,275h5M180,305h5M180,335h5M180,365h5M180,395h5M180,551.3h5M180,580.2h5M180,609.2h5M180,638.1h5M180,667h5M180,705.7h5M180,733.8h5M180,761.8h5M180,789.8h5M180,531.3h5M180,522.6h5M180,513.9h5M180,505.2h5M180,496.5h5M180,487.8h5M180,479.1h5M180,470.4h5M180,461.7h5M180,453h5M180,444.3h5M180,435.6h5M180,426.9h5M180,418.2h5M180,409.5h5"/>
</g>

<!-- tick labels -->
<g class="tk">
<text x="174" y="165.4">1018</text>
<text x="174" y="208">1016</text>
<text x="174" y="250.6">1014</text>
<text x="175" y="280">12</text>
<text x="175" y="310">9</text>
<text x="175" y="340">6</text>
<text x="175" y="370">3</text>
<text x="175" y="400">0</text>
<text x="177" y="535.8">3</text>
<text x="177" y="527.1">6</text>
<text x="177" y="518.4">9</text>
<text x="177" y="509.7">12</text>
<text x="177" y="501">15</text>
<text x="177" y="492.3">18</text>
<text x="177" y="483.6">21</text>
<text x="177" y="474.9">24</text>
<text x="177" y="466.2">27</text>
<text x="177" y="457.5">30</text>
<text x="177" y="448.8">33</text>
<text x="177" y="440.1">36</text>
<text x="177" y="431.4">39</text>
<text x="177" y="422.7">42</text>
<text x="177" y="414">45</text>
<text x="177" y="405.3">48</text>
<text x="172" y="556.3">100</text>
<text x="172" y="585.2">75</text>
<text x="172" y="614.2">50</text>
<text x="172" y="643.1">25</text>
<text x="172" y="672">0</text>
<text x="172" y="710.7">0.8</text>
<text x="172" y="738.8">0.6</text>
<text x="172" y="766.8">0.4</text>
<text x="172" y="794.8">0.2</text>
<text x="172" y="823">0</text>
</g>

<!-- left labels (rotated) -->
<g class="lb">
<text transform="translate(38,192) rotate(-90)" dy="0.35em" fill="#20a0f0" textLength="152" lengthAdjust="spacingAndGlyphs">Pritisak na nivou mora</text>
<text transform="translate(92,193) rotate(-90)" dy="0.35em" fill="#111" font-size="15" textLength="36" lengthAdjust="spacingAndGlyphs">(hPa)</text>
<text transform="translate(38,337) rotate(-90)" dy="0.35em" fill="#20c820" textLength="70" lengthAdjust="spacingAndGlyphs">10m Vjetar</text>
<text transform="translate(60,331) rotate(-90)" dy="0.35em" fill="#20c820" textLength="98" lengthAdjust="spacingAndGlyphs">Brzina i Pravac</text>
<text transform="translate(85,331) rotate(-90)" dy="0.35em" fill="#111" font-size="17" textLength="38" lengthAdjust="spacingAndGlyphs">(m/s)</text>
<text transform="translate(38,477) rotate(-90)" dy="0.35em" fill="#f04040" textLength="61" lengthAdjust="spacingAndGlyphs">2m Temp</text>
<text transform="translate(59,474.5) rotate(-90)" dy="0.35em" fill="#e8a838" textLength="65" lengthAdjust="spacingAndGlyphs">SFC Temp</text>
<text transform="translate(81,473) rotate(-90)" dy="0.35em" fill="#20c820" textLength="77" lengthAdjust="spacingAndGlyphs">dewpt Temp</text>
<text transform="translate(100,470) rotate(-90)" dy="0.35em" fill="#111" textLength="20" lengthAdjust="spacingAndGlyphs">(C)</text>
<text transform="translate(17,609) rotate(-90)" dy="0.35em" fill="#20a0f0" font-size="15" textLength="112" lengthAdjust="spacingAndGlyphs">Visoka Oblacnost</text>
<text transform="translate(37,608) rotate(-90)" dy="0.35em" fill="#e8a838" font-size="15" textLength="118" lengthAdjust="spacingAndGlyphs">Srednja Oblacnost</text>
<text transform="translate(59,608) rotate(-90)" dy="0.35em" fill="#e0108a" font-size="15" textLength="110" lengthAdjust="spacingAndGlyphs">Niska Oblacnost</text>
<text transform="translate(100,610) rotate(-90)" dy="0.35em" fill="#111" font-size="16" textLength="17" lengthAdjust="spacingAndGlyphs">(%)</text>
<text transform="translate(118,741) rotate(-90)" dy="0.35em" fill="#111" textLength="117" lengthAdjust="spacingAndGlyphs">1hr Precip (mm)</text>
</g>
<g font-family="Liberation Sans,sans-serif" font-size="15">
<text x="2" y="701" fill="#30c830" textLength="104" lengthAdjust="spacingAndGlyphs">Ukupna  Kisa</text>
<text x="8" y="726" fill="#f04040" textLength="98" lengthAdjust="spacingAndGlyphs">Konvek.Kisa</text>
<text x="17" y="750" fill="#f08040" textLength="89" lengthAdjust="spacingAndGlyphs">Zaledj.Kisa</text>
<text x="57" y="774" fill="#5050f0" textLength="49" lengthAdjust="spacingAndGlyphs">Snijeg</text>
<text x="69" y="799" fill="#30c8d0" textLength="37" lengthAdjust="spacingAndGlyphs">Grad</text>
</g>

<!-- compass -->
<g fill="#a35ee8" font-family="Liberation Sans,sans-serif" font-size="9.5" text-anchor="middle">
<text x="123" y="268.5">N</text>
<text x="123" y="322.5">S</text>
<text x="88.5" y="298">W</text>
<text x="155" y="298">E</text>
</g>
<path fill="none" stroke="#a35ee8" stroke-width="1" d="M120,277L123,273L126,277M123,281V285M123,288V292M123,298V302M123,305V309M120,309L123,313L126,309M107,291L102.5,294.5L107,298M109,294.5H114M116,294.5H120M126,294.5H130M132,294.5H137M140,291L144.5,294.5L140,298"/>

<!-- watermark & footer -->
<text transform="translate(881,600) rotate(-90)" dy="0.35em" text-anchor="middle" font-family="Liberation Serif,serif" font-size="16" fill="#d6e3d6" textLength="105" lengthAdjust="spacingAndGlyphs">made by Angel</text>
<text x="331" y="876" font-family="Liberation Serif,serif" font-size="13" fill="#b8c4b8" textLength="97" lengthAdjust="spacing">PODGORICA</text>
<text x="330" y="875" font-family="Liberation Serif,serif" font-size="13" fill="#222" textLength="97" lengthAdjust="spacing">PODGORICA</text>
</svg>
</body></html>
